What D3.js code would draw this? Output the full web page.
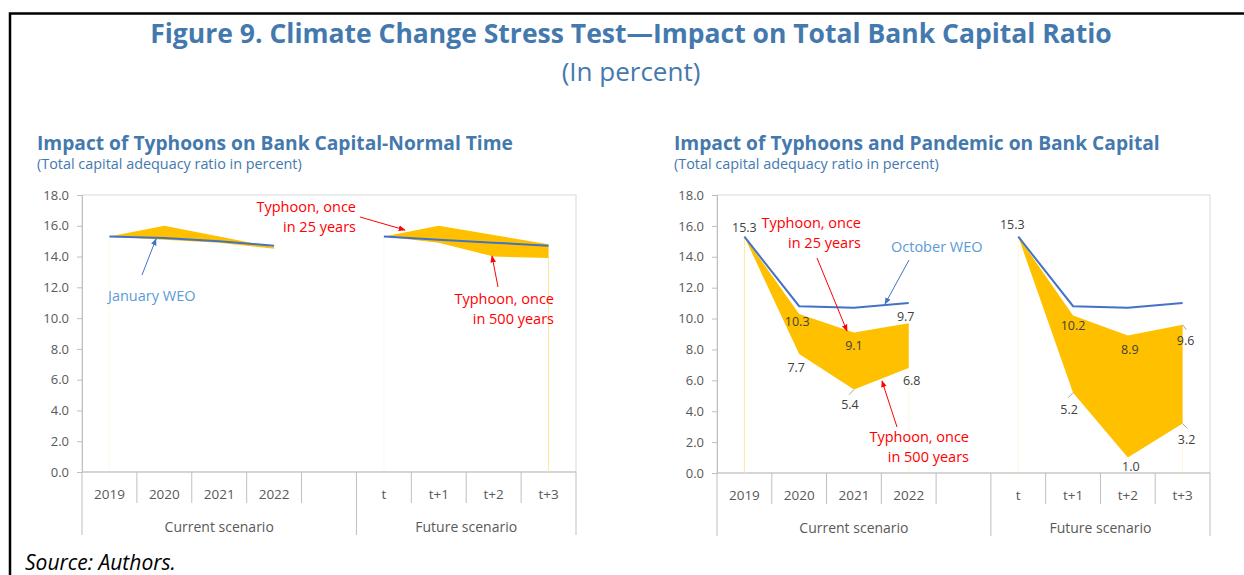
<!DOCTYPE html>
<html>
<head>
<meta charset="utf-8">
<script src="https://cdn.jsdelivr.net/npm/d3@7"></script>
<style>
  body { margin: 0; background: #fff; }
  svg { display: block; }
  text { font-family: "Open Sans", sans-serif; }
</style>
</head>
<body>
<svg width="1244" height="575"></svg>
<script>
// categories on the x axis (blank slot between the two scenarios)
var categories = ["2019", "2020", "2021", "2022", "", "t", "t+1", "t+2", "t+3"];
var groups = ["Current scenario", "Future scenario"];
var groupSpans = [[0, 5], [5, 9]];
var yTicks = [0, 2, 4, 6, 8, 10, 12, 14, 16, 18];

// left panel: typhoons, normal time
var januaryWEO   = [15.3, 15.2, 15.0, 14.7, null, 15.3, 15.1, 14.9, 14.7];
var normalOnce25  = [15.3, 16.0, 15.3, 14.6, null, 15.3, 16.0, 15.4, 14.8];
var normalOnce500 = [15.3, 15.1, 14.9, 14.5, null, 15.3, 14.9, 14.0, 13.9];

// right panel: typhoons and pandemic
var octoberWEO      = [15.3, 10.8, 10.7, 11.0, null, 15.3, 10.8, 10.7, 11.0];
var pandemicOnce25  = [15.3, 10.3, 9.1, 9.7, null, 15.3, 10.2, 8.9, 9.6];
var pandemicOnce500 = [15.3, 7.7, 5.4, 6.8, null, 15.3, 5.2, 1.0, 3.2];

// label nudges (pixels) for the data labels of the right panel; third item = leader line
var upperLabelNudge = [[0, -9], [-2, 8], [0, 13], [-3, -7], null, [-6, -12], [0, 10], [2, 14], [3, 16, 1]];
var lowerLabelNudge = [null, [-3, 14], [-4, 15, 1], [3, 13], null, null, [-4, 17, 1], [3, 9], [4, 16, 1]];

var blue = "#4472C4", lightBlue = "#5B9BD5", orange = "#FFC000", red = "#FF0000",
    titleBlue = "#4479AE", axisGrey = "#BFBFBF", textGrey = "#595959";

var svg = d3.select("svg");

svg.append("defs").selectAll("marker")
    .data([["arrowRed", red], ["arrowBlue", blue]])
  .enter().append("marker")
    .attr("id", function(d) { return d[0]; })
    .attr("viewBox", "0 0 10 10")
    .attr("refX", 9).attr("refY", 5)
    .attr("markerWidth", 7).attr("markerHeight", 7)
    .attr("markerUnits", "userSpaceOnUse")
    .attr("orient", "auto")
  .append("path")
    .attr("d", "M0,1 L10,5 L0,9 z")
    .attr("fill", function(d) { return d[1]; });

// frame
svg.append("path")
    .attr("d", "M10,575 V13.5 H1244")
    .attr("fill", "none")
    .attr("stroke", "#000")
    .attr("stroke-width", 2.5);

svg.append("text")
    .attr("x", 631).attr("y", 43)
    .attr("text-anchor", "middle")
    .attr("fill", titleBlue)
    .style("font-size", "26.5px").style("font-weight", "bold")
    .text("Figure 9. Climate Change Stress Test\u2014Impact on Total Bank Capital Ratio");

svg.append("text")
    .attr("x", 631).attr("y", 81)
    .attr("text-anchor", "middle")
    .attr("fill", titleBlue)
    .style("font-size", "26px")
    .text("(In percent)");

svg.append("text")
    .attr("x", 25).attr("y", 570)
    .style("font-size", "21px").style("font-style", "italic")
    .attr("fill", "#000")
    .text("Source: Authors.");

function drawPanel(p) {
  var width = p.right - p.left, height = p.bottom - p.top;
  var g = svg.append("g").attr("transform", "translate(" + p.left + "," + p.top + ")");

  svg.append("text")
      .attr("x", p.titleX).attr("y", 150)
      .attr("fill", titleBlue)
      .style("font-size", "19.2px").style("font-weight", "bold")
      .text(p.title);
  svg.append("text")
      .attr("x", p.titleX).attr("y", 169)
      .attr("fill", titleBlue)
      .style("font-size", "14.4px")
      .text("(Total capital adequacy ratio in percent)");

  var x = d3.scaleBand().domain(d3.range(categories.length)).range([0, width]);
  var y = d3.scaleLinear().domain([0, 18]).range([height, 0]);
  var cx = function(i) { return x(i) + x.bandwidth() / 2; };

  // plot area border
  g.append("rect")
      .attr("width", width).attr("height", height)
      .attr("fill", "none").attr("stroke", "#D9D9D9");

  // y axis
  var yAxis = g.append("g")
      .call(d3.axisLeft(y).tickValues(yTicks).tickFormat(d3.format(".1f")).tickSize(5).tickPadding(8));
  yAxis.select(".domain").attr("stroke", axisGrey);
  yAxis.selectAll(".tick line").attr("stroke", axisGrey);
  yAxis.selectAll("text").attr("fill", textGrey).style("font-size", "13px").style("font-family", "'Open Sans', sans-serif");

  // x axis: category labels with separators
  var xAxis = g.append("g").attr("transform", "translate(0," + height + ")");
  xAxis.append("line").attr("x1", 0).attr("x2", width).attr("stroke", axisGrey);
  xAxis.selectAll(".sep")
      .data(d3.range(categories.length + 1))
    .enter().append("line")
      .attr("x1", function(i) { return i * x.step(); })
      .attr("x2", function(i) { return i * x.step(); })
      .attr("y1", 0)
      .attr("y2", function(i) { return (i === 0 || i === 5 || i === 9) ? 63 : 31; })
      .attr("stroke", axisGrey);
  xAxis.selectAll(".cat")
      .data(categories)
    .enter().append("text")
      .attr("x", function(d, i) { return cx(i); })
      .attr("y", 27)
      .attr("text-anchor", "middle")
      .attr("fill", textGrey)
      .style("font-size", "13.5px")
      .text(function(d) { return d; });
  xAxis.selectAll(".grp")
      .data(groups)
    .enter().append("text")
      .attr("x", function(d, i) { return (groupSpans[i][0] + groupSpans[i][1]) / 2 * x.step(); })
      .attr("y", 60)
      .attr("text-anchor", "middle")
      .attr("fill", textGrey)
      .style("font-size", "14px")
      .text(function(d) { return d; });

  var rows = categories.map(function(c, i) {
    return { i: i, weo: p.weo[i], hi: p.hi[i], lo: p.lo[i] };
  });
  var defined = function(d) { return d.hi != null; };

  // faint drop lines at the ends of the invisible base area
  var ends = rows.filter(function(d) {
    return defined(d) && (d.i === 0 || d.i === 3 || d.i === 5 || d.i === 8);
  });
  g.selectAll(".drop")
      .data(ends)
    .enter().append("line")
      .attr("x1", function(d) { return cx(d.i); })
      .attr("x2", function(d) { return cx(d.i); })
      .attr("y1", y(0))
      .attr("y2", function(d) { return y(d.lo); })
      .attr("stroke", "#FFE699")
      .attr("stroke-opacity", function(d) { return p.dropOpacity[d.i]; });

  // band between once-in-25 and once-in-500 years typhoons
  g.append("path")
      .datum(rows)
      .attr("fill", orange)
      .attr("d", d3.area().defined(defined)
        .x(function(d) { return cx(d.i); })
        .y0(function(d) { return y(d.lo); })
        .y1(function(d) { return y(d.hi); }));

  // WEO baseline
  g.append("path")
      .datum(rows)
      .attr("fill", "none")
      .attr("stroke", blue)
      .attr("stroke-width", 2)
      .attr("d", d3.line().defined(function(d) { return d.weo != null; })
        .x(function(d) { return cx(d.i); })
        .y(function(d) { return y(d.weo); }));

  if (p.labels) {
    var labels = [];
    rows.forEach(function(d) {
      if (upperLabelNudge[d.i]) labels.push({ i: d.i, v: d.hi, n: upperLabelNudge[d.i] });
      if (lowerLabelNudge[d.i]) labels.push({ i: d.i, v: d.lo, n: lowerLabelNudge[d.i] });
    });
    // short leader lines from the point toward its label
    g.selectAll(".leader")
        .data(labels.filter(function(d) { return d.n[2]; }))
      .enter().append("line")
        .attr("x1", function(d) { return cx(d.i); })
        .attr("y1", function(d) { return y(d.v); })
        .attr("x2", function(d) { return cx(d.i) + d.n[0] * 1.2; })
        .attr("y2", function(d) { return y(d.v) + 5; })
        .attr("stroke", "#A6A6A6");
    g.selectAll(".lbl")
        .data(labels)
      .enter().append("text")
        .attr("x", function(d) { return cx(d.i) + d.n[0]; })
        .attr("y", function(d) { return y(d.v) + d.n[1]; })
        .attr("dy", "0.35em")
        .attr("text-anchor", "middle")
        .attr("fill", "#404040")
        .style("font-size", "12.5px")
        .text(function(d) { return d3.format(".1f")(d.v); });
  }

  // annotations
  p.notes.forEach(function(a) {
    var t = svg.append("text")
        .attr("x", a.tx).attr("y", a.ty)
        .attr("text-anchor", a.anchor)
        .attr("fill", a.color)
        .style("font-size", "14.5px");
    a.lines.forEach(function(s, k) {
      t.append("tspan").attr("x", a.tx).attr("dy", k ? 19.5 : 0).text(s);
    });
    svg.append("line")
        .attr("x1", a.arrow[0]).attr("y1", a.arrow[1])
        .attr("x2", a.arrow[2]).attr("y2", a.arrow[3])
        .attr("stroke", a.arrowColor)
        .attr("stroke-width", 1)
        .attr("marker-end", a.arrowColor === red ? "url(#arrowRed)" : "url(#arrowBlue)");
  });
}

drawPanel({
  left: 82, right: 576, top: 195, bottom: 472, titleX: 37,
  title: "Impact of Typhoons on Bank Capital-Normal Time",
  weo: januaryWEO, hi: normalOnce25, lo: normalOnce500, labels: false,
  dropOpacity: [0.25, 0, 0, 0, 0, 0.25, 0, 0, 1],
  notes: [
    { lines: ["January WEO"], tx: 108, ty: 301, anchor: "start", color: lightBlue,
      arrow: [142, 275, 156, 239], arrowColor: blue },
    { lines: ["Typhoon, once", "in 25 years"], tx: 356, ty: 212, anchor: "end", color: red,
      arrow: [360, 217, 405, 230], arrowColor: red },
    { lines: ["Typhoon, once", "in 500 years"], tx: 554, ty: 304, anchor: "end", color: red,
      arrow: [498, 287, 492, 256], arrowColor: red }
  ]
});

drawPanel({
  left: 717, right: 1210, top: 195, bottom: 473, titleX: 674,
  title: "Impact of Typhoons and Pandemic on Bank Capital",
  weo: octoberWEO, hi: pandemicOnce25, lo: pandemicOnce500, labels: true,
  dropOpacity: [1, 0, 0, 0.35, 0, 0.35, 0, 0, 0.35],
  notes: [
    { lines: ["Typhoon, once", "in 25 years"], tx: 861, ty: 228, anchor: "end", color: red,
      arrow: [817, 258, 847, 331], arrowColor: red },
    { lines: ["October WEO"], tx: 891, ty: 252, anchor: "start", color: lightBlue,
      arrow: [909, 260, 885, 304], arrowColor: blue },
    { lines: ["Typhoon, once", "in 500 years"], tx: 969, ty: 442, anchor: "end", color: red,
      arrow: [897, 427, 882, 381], arrowColor: red }
  ]
});
</script>
</body>
</html>
